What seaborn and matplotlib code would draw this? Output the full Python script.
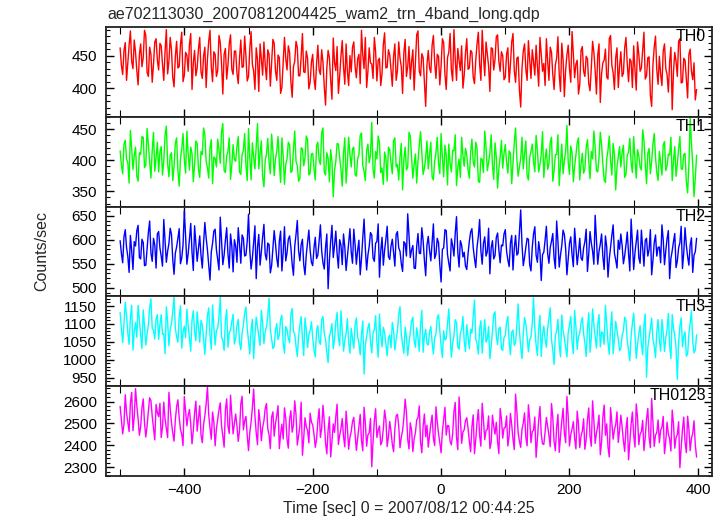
import numpy as np
import pandas as pd
import matplotlib
matplotlib.use("Agg")
import matplotlib.pyplot as plt
from matplotlib.ticker import MultipleLocator
import seaborn as sns

title = "ae702113030_20070812004425_wam2_trn_4band_long.qdp"
xlabel = "Time [sec] 0 = 2007/08/12 00:44:25"
ylabel = "Counts/sec"
bands = ["TH0", "TH1", "TH2", "TH3", "TH0123"]

time_sec = np.arange(-500, 400, 2)

th0 = [
    462, 435, 421, 458, 470, 412, 439, 466, 488, 441, 430, 474, 455, 427, 405, 451, 468, 433, 447, 489, 481, 424, 418, 463, 452, 409, 437, 471, 476, 443,
    428, 469, 465, 437, 412, 456, 490, 422, 441, 478, 459, 416, 402, 448, 472, 431, 433, 467, 486, 410, 420, 455, 451, 426, 467, 484, 398, 439, 458, 419,
    431, 460, 478, 425, 415, 449, 463, 401, 444, 472, 489, 433, 410, 456, 452, 418, 427, 481, 470, 438, 391, 452, 461, 414, 436, 468, 482, 429, 421, 457,
    457, 423, 407, 446, 474, 432, 433, 480, 449, 411, 418, 461, 487, 437, 426, 398, 462, 444, 395, 468, 445, 420, 471, 436, 413, 459, 452, 403, 438, 475,
    469, 427, 412, 451, 447, 392, 401, 438, 478, 446, 428, 465, 455, 410, 386, 433, 441, 472, 463, 419, 419, 448, 484, 425, 424, 457, 446, 399, 409, 440,
    452, 415, 398, 437, 466, 428, 421, 459, 440, 402, 374, 431, 458, 447, 412, 383, 477, 439, 427, 464, 392, 418, 449, 473, 433, 406, 468, 426, 404, 450,
    425, 463, 471, 434, 416, 445, 452, 407, 489, 451, 430, 478, 401, 426, 462, 439, 437, 415, 478, 456, 411, 443, 446, 404, 423, 467, 485, 431, 432, 459,
    451, 428, 403, 449, 468, 412, 427, 471, 446, 433, 392, 455, 475, 418, 433, 464, 414, 440, 459, 397, 440, 482, 488, 426, 419, 453, 447, 409, 372, 436,
    458, 431, 424, 466, 481, 440, 415, 452, 449, 405, 434, 476, 470, 421, 398, 447, 455, 484, 428, 411, 490, 445, 412, 461, 443, 427, 465, 400, 420, 454,
    476, 429, 431, 458, 455, 417, 407, 443, 468, 486, 437, 412, 489, 450, 419, 471, 452, 434, 395, 462, 461, 428, 444, 479, 482, 441, 426, 456, 450, 413,
    417, 452, 462, 409, 436, 471, 484, 427, 409, 446, 448, 397, 371, 430, 457, 468, 429, 412, 473, 444, 415, 459, 441, 420, 466, 435, 403, 478, 452, 426,
    438, 404, 476, 441, 412, 463, 455, 421, 398, 436, 446, 479, 421, 395, 469, 444, 387, 428, 451, 466, 430, 409, 487, 453, 416, 437, 443, 391, 405, 458,
    464, 426, 418, 449, 445, 407, 396, 431, 472, 455, 427, 391, 451, 468, 378, 422, 439, 443, 460, 417, 414, 476, 481, 435, 424, 398, 447, 462, 401, 433,
    456, 418, 423, 462, 478, 437, 410, 445, 441, 401, 465, 428, 397, 471, 452, 426, 431, 459, 486, 414, 419, 447, 448, 389, 372, 436, 463, 480, 428, 406,
    449, 421, 404, 457, 468, 430, 421, 394, 440, 463, 367, 425, 455, 441, 418, 472, 476, 408, 409, 446, 443, 415, 385, 452, 460, 426, 413, 439, 382, 398,
]

th1 = [
    415, 392, 378, 426, 432, 401, 396, 363, 448, 419, 385, 407, 421, 374, 366, 412, 409, 438, 437, 388, 392, 451, 426, 397, 371, 416, 445, 382, 404, 429,
    381, 413, 422, 376, 399, 440, 455, 395, 373, 408, 412, 367, 390, 427, 436, 384, 358, 402, 418, 443, 401, 379, 447, 410, 384, 421, 411, 365, 393, 431,
    427, 386, 372, 414, 409, 452, 441, 398, 388, 371, 420, 433, 362, 405, 403, 389, 434, 417, 395, 446, 459, 383, 380, 407, 414, 436, 369, 392, 425, 401,
    398, 422, 438, 381, 377, 409, 416, 443, 392, 367, 451, 404, 368, 428, 405, 386, 423, 459, 386, 411, 431, 373, 357, 400, 409, 435, 397, 378, 442, 414,
    375, 402, 414, 438, 396, 364, 436, 407, 361, 393, 402, 429, 425, 380, 383, 417, 447, 398, 391, 366, 370, 420, 418, 391, 404, 439, 433, 376, 379, 410,
    411, 387, 368, 423, 429, 400, 393, 445, 452, 381, 376, 412, 403, 365, 417, 398, 341, 383, 398, 427, 426, 404, 385, 358, 411, 436, 363, 395, 437, 409,
    389, 418, 421, 377, 374, 402, 409, 440, 444, 391, 382, 367, 415, 426, 396, 408, 461, 385, 371, 414, 402, 439, 428, 380, 387, 361, 413, 403, 366, 421,
    417, 395, 378, 431, 436, 389, 393, 368, 405, 427, 352, 401, 421, 384, 389, 445, 439, 406, 371, 393, 410, 363, 398, 425, 446, 412, 377, 387, 404, 431,
    386, 410, 429, 373, 368, 399, 412, 437, 395, 378, 443, 405, 373, 424, 408, 360, 426, 394, 381, 416, 415, 441, 359, 388, 402, 372, 437, 407, 390, 419,
    408, 384, 371, 412, 434, 397, 389, 429, 419, 366, 364, 403, 401, 380, 447, 421, 383, 396, 412, 441, 392, 369, 428, 405, 355, 386, 406, 432, 387, 411,
    425, 397, 379, 415, 411, 362, 395, 428, 452, 403, 374, 389, 403, 437, 386, 410, 431, 375, 368, 404, 414, 426, 398, 381, 440, 417, 381, 393, 409, 446,
    372, 401, 418, 385, 394, 429, 437, 366, 383, 409, 409, 441, 359, 392, 426, 378, 399, 414, 456, 397, 377, 423, 412, 365, 390, 408, 428, 436, 368, 394,
    411, 379, 386, 420, 433, 398, 370, 414, 402, 447, 421, 383, 381, 404, 445, 425, 393, 368, 364, 402, 416, 439, 399, 376, 427, 410, 352, 389, 405, 422,
    389, 413, 424, 372, 377, 408, 413, 435, 396, 380, 438, 401, 371, 417, 407, 389, 384, 449, 432, 394, 362, 411, 419, 378, 398, 426, 443, 405, 380, 367,
    414, 396, 376, 424, 430, 383, 391, 410, 408, 437, 367, 399, 422, 374, 394, 418, 438, 386, 385, 409, 411, 366, 347, 392, 468, 427, 392, 341, 371, 408,
]

th2 = [
    598, 571, 552, 606, 621, 584, 565, 532, 609, 577, 538, 596, 587, 619, 630, 563, 560, 601, 594, 546, 547, 582, 615, 639, 572, 555, 603, 589, 541, 612,
    617, 583, 566, 545, 642, 598, 553, 576, 592, 624, 611, 559, 528, 572, 585, 603, 623, 550, 562, 589, 660, 607, 549, 571, 601, 634, 574, 536, 629, 592,
    555, 581, 608, 567, 541, 593, 636, 604, 579, 548, 516, 574, 593, 618, 622, 579, 559, 537, 647, 596, 548, 568, 599, 625, 570, 541, 612, 587, 533, 600,
    587, 553, 625, 591, 551, 610, 603, 566, 568, 597, 653, 578, 539, 562, 594, 629, 519, 585, 611, 547, 575, 606, 632, 570, 558, 593, 590, 531, 546, 581,
    619, 592, 561, 543, 597, 618, 535, 574, 627, 556, 573, 601, 608, 584, 549, 526, 586, 611, 640, 577, 556, 590, 601, 548, 527, 569, 594, 620, 578, 553,
    546, 583, 605, 561, 568, 597, 631, 576, 552, 539, 584, 612, 498, 557, 597, 630, 563, 588, 618, 571, 541, 600, 589, 548, 612, 585, 536, 564, 593, 623,
    574, 551, 622, 590, 549, 578, 599, 527, 561, 604, 643, 582, 537, 568, 586, 615, 610, 562, 555, 593, 596, 633, 522, 576, 605, 547, 578, 601, 628, 565,
    559, 587, 601, 574, 545, 611, 617, 583, 576, 550, 534, 596, 592, 566, 654, 609, 563, 579, 588, 541, 540, 586, 613, 572, 571, 625, 598, 557, 525, 589,
    607, 578, 556, 594, 633, 561, 570, 603, 594, 547, 512, 580, 583, 621, 619, 569, 551, 535, 602, 588, 566, 613, 648, 575, 543, 598, 589, 564, 574, 545,
    538, 571, 597, 616, 623, 584, 561, 542, 585, 607, 642, 577, 549, 593, 606, 566, 575, 624, 529, 583, 598, 560, 567, 605, 614, 579, 552, 589, 587, 612,
    621, 576, 558, 544, 593, 609, 537, 582, 609, 568, 572, 615, 662, 591, 546, 563, 584, 603, 601, 548, 535, 584, 612, 627, 568, 553, 596, 575, 515, 569,
    574, 599, 628, 571, 551, 584, 597, 613, 562, 540, 639, 597, 543, 568, 588, 620, 611, 582, 527, 559, 593, 606, 569, 544, 624, 586, 548, 573, 603, 562,
    557, 583, 596, 622, 534, 570, 617, 593, 576, 549, 651, 601, 549, 576, 591, 612, 565, 538, 608, 585, 522, 560, 585, 609, 631, 572, 558, 541, 599, 580,
    612, 588, 550, 567, 589, 616, 571, 535, 643, 594, 538, 573, 597, 620, 562, 551, 620, 581, 545, 599, 603, 566, 579, 621, 527, 557, 594, 610, 566, 584,
    585, 552, 631, 600, 548, 577, 602, 619, 519, 561, 577, 596, 613, 542, 556, 583, 594, 628, 540, 573, 625, 589, 565, 547, 589, 604, 532, 568, 575, 603,
]

th3 = [
    1132, 1086, 1048, 1101, 1161, 1122, 1075, 1043, 1118, 1152, 1027, 1079, 1104, 1063, 1152, 1109, 1069, 1031, 1139, 1094, 1041, 1072, 1097, 1145, 1170, 1087, 1083, 1058, 1115, 1126,
    1057, 1098, 1126, 1071, 1073, 1017, 1148, 1106, 1039, 1085, 1102, 1134, 1176, 1088, 1065, 1049, 1119, 1151, 1032, 1077, 1094, 1062, 1141, 1096, 1060, 1024, 1111, 1137, 1078, 1053,
    1134, 1092, 1049, 1110, 1097, 1058, 1015, 1071, 1122, 1145, 1068, 1029, 1153, 1091, 1041, 1082, 1089, 1119, 1176, 1063, 1054, 1026, 1108, 1140, 1035, 1076, 1082, 1107, 1127, 1044,
    1061, 1096, 1113, 1050, 1028, 1074, 1096, 1131, 1147, 1089, 1052, 1016, 1084, 1113, 1003, 1067, 1119, 1092, 1066, 1040, 1138, 1101, 1045, 1078, 1092, 1123, 1172, 1085, 1059, 1031,
    1037, 1082, 1101, 1056, 1069, 1114, 1124, 1047, 1018, 1093, 1085, 1060, 1048, 1127, 1143, 1079, 1072, 1038, 1009, 1065, 1096, 1121, 1058, 1012, 1117, 1084, 1034, 1071, 1081, 1106,
    1062, 1027, 1008, 1083, 1095, 1051, 1043, 1112, 1121, 1074, 1056, 1020, 992, 1066, 1078, 1101, 1031, 1057, 1106, 1132, 1061, 1039, 1137, 1080, 1024, 1054, 1073, 1115, 1049, 1018,
    1088, 1059, 1032, 1097, 1117, 1064, 1046, 1014, 1071, 1108, 960, 1041, 1064, 1089, 1102, 1052, 1019, 1075, 1083, 1123, 1049, 1007, 1128, 1070, 1036, 1091, 1075, 1044, 1011, 1062,
    1069, 1033, 1104, 1081, 1027, 1056, 1082, 1125, 1148, 1072, 1043, 1018, 1091, 1063, 1012, 1047, 1076, 1108, 1119, 1054, 1035, 1089, 1062, 1024, 1097, 1138, 1021, 1067, 1085, 1045,
    1041, 1078, 1093, 1049, 1016, 1061, 1072, 1117, 1126, 1083, 1038, 1006, 1081, 1055, 1059, 1099, 1142, 1070, 1007, 1046, 1068, 1112, 1103, 1036, 1029, 1074, 1084, 1121, 1052, 1023,
    1098, 1063, 1031, 1085, 1074, 1120, 1167, 1058, 1045, 1016, 1086, 1109, 1018, 1071, 1112, 1049, 1057, 1093, 1003, 1038, 1079, 1127, 1134, 1066, 1042, 1087, 1091, 1030, 1026, 1062,
    1068, 1105, 1121, 1051, 1014, 1077, 1083, 1040, 1048, 1095, 1156, 1081, 1037, 1003, 1072, 1118, 1099, 1064, 1022, 1056, 1063, 1101, 1173, 1089, 1041, 1012, 1087, 1124, 1009, 1069,
    1094, 1058, 1035, 1087, 1117, 1145, 1056, 1026, 987, 1069, 1079, 1113, 1043, 1008, 1125, 1082, 1061, 1034, 1008, 1076, 1097, 1121, 1050, 1017, 1138, 1092, 1029, 1065, 1073, 1104,
    1118, 1073, 1047, 1009, 1086, 1131, 1021, 1062, 1142, 1097, 1064, 1033, 1099, 1126, 1036, 1078, 1075, 1043, 1152, 1101, 1048, 1015, 1089, 1134, 1017, 1059, 1107, 1081, 1058, 1025,
    1032, 1067, 1081, 1119, 1109, 1054, 1026, 997, 1067, 1102, 1130, 1071, 1004, 1042, 1072, 1095, 1045, 1014, 1097, 1128, 951, 1033, 1061, 1088, 1116, 1057, 1038, 1006, 1079, 1112,
    1055, 1024, 1112, 1076, 1023, 1061, 1084, 1129, 1041, 1003, 1126, 1087, 1068, 1035, 945, 1048, 1093, 1117, 1036, 1066, 1078, 1010, 1015, 1072, 1103, 1137, 1052, 1019, 1027, 1070,
]

th0123 = [
    2578, 2514, 2452, 2497, 2631, 2548, 2506, 2463, 2593, 2642, 2467, 2530, 2659, 2581, 2521, 2446, 2485, 2571, 2612, 2502, 2438, 2489, 2556, 2617, 2604, 2533, 2479, 2425, 2587, 2549,
    2531, 2592, 2436, 2483, 2597, 2521, 2478, 2435, 2642, 2569, 2503, 2457, 2419, 2516, 2576, 2608, 2528, 2472, 2451, 2399, 2623, 2554, 2489, 2537, 2564, 2496, 2407, 2468, 2548, 2602,
    2465, 2523, 2581, 2447, 2412, 2495, 2536, 2589, 2668, 2541, 2479, 2428, 2552, 2507, 2398, 2474, 2517, 2563, 2594, 2488, 2443, 2392, 2561, 2612, 2488, 2454, 2629, 2536, 2452, 2501,
    2543, 2487, 2418, 2469, 2589, 2624, 2471, 2512, 2532, 2446, 2376, 2459, 2506, 2571, 2657, 2534, 2458, 2403, 2563, 2508, 2421, 2482, 2512, 2568, 2591, 2476, 2447, 2385, 2529, 2553,
    2442, 2498, 2536, 2581, 2385, 2451, 2497, 2429, 2571, 2524, 2428, 2387, 2519, 2558, 2460, 2492, 2603, 2539, 2401, 2444, 2488, 2597, 2355, 2434, 2526, 2483, 2469, 2411, 2547, 2506,
    2493, 2452, 2391, 2427, 2512, 2567, 2436, 2478, 2583, 2509, 2412, 2361, 2469, 2530, 2347, 2418, 2498, 2459, 2531, 2588, 2404, 2446, 2476, 2522, 2441, 2393, 2556, 2481, 2382, 2437,
    2463, 2509, 2528, 2454, 2377, 2433, 2485, 2541, 2421, 2375, 2574, 2502, 2396, 2448, 2457, 2523, 2302, 2416, 2512, 2567, 2436, 2469, 2489, 2402, 2418, 2475, 2561, 2516, 2394, 2441,
    2509, 2463, 2405, 2371, 2476, 2534, 2542, 2488, 2389, 2437, 2467, 2525, 2611, 2552, 2428, 2383, 2503, 2470, 2371, 2429, 2458, 2516, 2527, 2580, 2414, 2366, 2488, 2543, 2439, 2492,
    2392, 2446, 2497, 2538, 2431, 2399, 2576, 2507, 2453, 2412, 2366, 2463, 2518, 2574, 2447, 2491, 2489, 2418, 2402, 2452, 2554, 2596, 2437, 2380, 2621, 2529, 2409, 2461, 2471, 2513,
    2526, 2478, 2418, 2371, 2484, 2539, 2362, 2427, 2507, 2563, 2445, 2396, 2592, 2516, 2426, 2468, 2473, 2534, 2385, 2413, 2538, 2487, 2451, 2505, 2417, 2362, 2568, 2520, 2433, 2479,
    2481, 2534, 2397, 2445, 2546, 2493, 2429, 2381, 2634, 2556, 2458, 2419, 2391, 2472, 2502, 2548, 2437, 2398, 2585, 2521, 2412, 2463, 2469, 2529, 2345, 2426, 2516, 2577, 2452, 2407,
    2404, 2461, 2527, 2486, 2446, 2394, 2591, 2527, 2418, 2375, 2483, 2542, 2368, 2437, 2511, 2569, 2459, 2412, 2623, 2531, 2397, 2449, 2475, 2508, 2432, 2384, 2556, 2497, 2390, 2443,
    2465, 2521, 2382, 2428, 2518, 2571, 2441, 2396, 2603, 2512, 2409, 2456, 2487, 2538, 2357, 2415, 2529, 2584, 2446, 2498, 2392, 2347, 2572, 2503, 2428, 2471, 2495, 2553, 2413, 2469,
    2538, 2483, 2421, 2372, 2476, 2527, 2334, 2418, 2497, 2552, 2448, 2392, 2589, 2526, 2403, 2451, 2462, 2514, 2376, 2434, 2521, 2568, 2437, 2389, 2614, 2502, 2395, 2447, 2458, 2516,
    2412, 2469, 2483, 2532, 2362, 2418, 2506, 2451, 2429, 2374, 2561, 2497, 2387, 2436, 2449, 2508, 2298, 2391, 2472, 2529, 2415, 2367, 2533, 2476, 2376, 2432, 2455, 2512, 2401, 2346,
]

series = [th0, th1, th2, th3, th0123]
colors = ["#ff0000", "#00ff00", "#0000ff", "#00ffff", "#ff00ff"]
ylims = [(356, 494), (325, 470), (482, 669), (926, 1177), (2260, 2670)]
major = [50, 50, 50, 50, 100]
minor = [10, 10, 10, 10, 20]

sns.set_style("ticks")
plt.rcParams["font.family"] = ["Liberation Sans", "DejaVu Sans"]

W, H = 723, 516
fig = plt.figure(figsize=(W / 100, H / 100), dpi=100)
axes = fig.subplots(5, 1, sharex=True)
fig.subplots_adjust(left=106 / W, right=712 / W, top=1 - 27 / H,
                    bottom=1 - 476 / H, hspace=0)

for ax, name, vals, col, yl, mj, mn in zip(axes, bands, series, colors,
                                            ylims, major, minor):
    df = pd.DataFrame({"t": time_sec, "v": vals})
    sns.lineplot(data=df, x="t", y="v", ax=ax, color=col, linewidth=1.0,
                 estimator=None, sort=False)
    ax.set_xlim(-522, 422)
    ax.set_ylim(*yl)
    ax.yaxis.set_major_locator(MultipleLocator(mj))
    ax.yaxis.set_minor_locator(MultipleLocator(mn))
    ax.xaxis.set_major_locator(MultipleLocator(200))
    ax.xaxis.set_minor_locator(MultipleLocator(100))
    ax.tick_params(which="both", direction="in", top=True, right=True,
                   labelsize=11, colors="black")
    ax.tick_params(which="major", length=6, width=1)
    ax.tick_params(which="minor", length=3, width=0.8)
    ax.tick_params(axis="x", which="minor", length=5)
    ax.tick_params(axis="y", which="major", pad=6.5)
    ax.tick_params(axis="x", which="major", pad=5)
    for s in ax.spines.values():
        s.set_linewidth(1.3)
        s.set_color("#222222")
    ax.set_xlabel("")
    ax.set_ylabel("")
    ax.text(0.99, 0.975, name, transform=ax.transAxes, ha="right", va="top",
            fontsize=11.5, color="black")

axes[-1].set_xlabel(xlabel, fontsize=11.5, labelpad=3)
fig.text(107 / W, 1 - 14 / H, title, ha="left", va="center", fontsize=11.5)
fig.text(42 / W, 1 - 251 / H, ylabel, ha="center", va="center",
         rotation=90, fontsize=11.5)

fig.savefig("out.png", dpi=100)
